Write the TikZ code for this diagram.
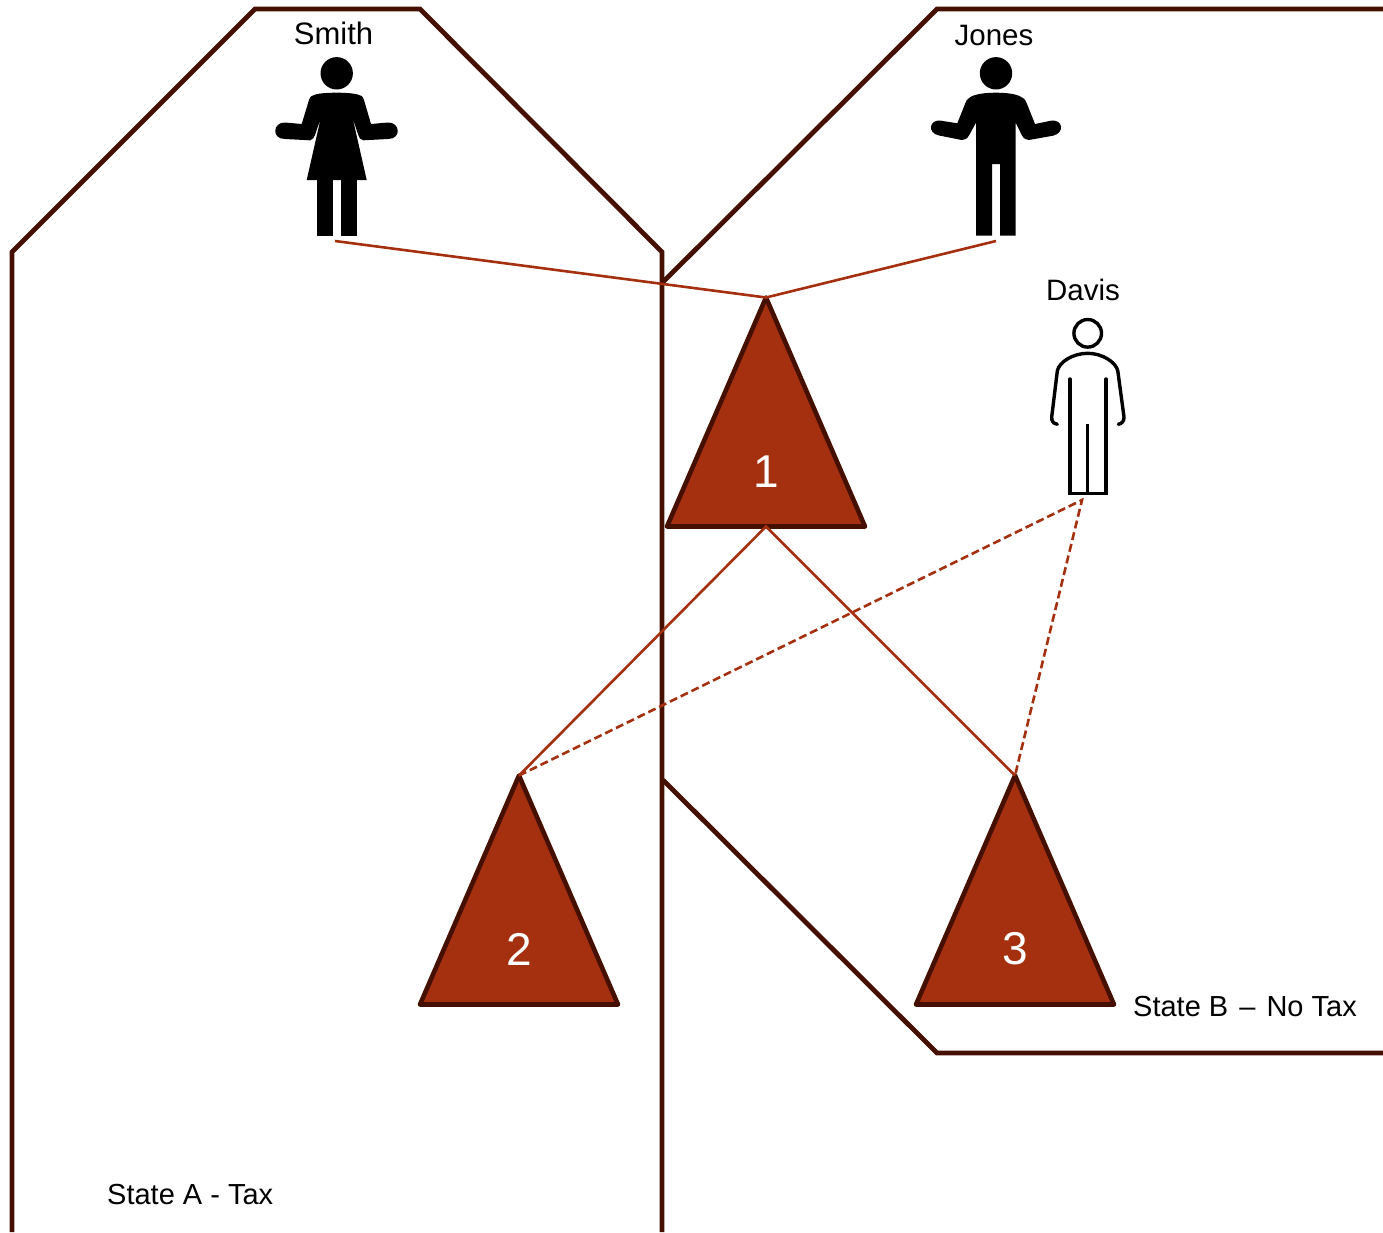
\documentclass[tikz,border=0pt]{standalone}
\usepackage{fontspec}
\setmainfont{Liberation Sans}
\usetikzlibrary{positioning,shapes.geometric}
\definecolor{statebrown}{HTML}{451000}
\definecolor{entityred}{HTML}{A5300F}
\tikzset{
    stateline/.style={draw=statebrown,line width=4.8pt,line join=miter},
    entity/.style={isosceles triangle,shape border rotate=90,isosceles triangle stretches,
        minimum width=198pt,minimum height=229pt,inner sep=0pt,outer sep=0pt,anchor=apex,
        fill=entityred,draw=statebrown,line width=4.6pt,line join=round},
    number/.style={text=white,font=\fontsize{46}{46}\selectfont,inner sep=0pt},
    caption/.style={text=black,font=\fontsize{29.5}{29.5}\selectfont,inner sep=0pt,anchor=base},
    statename/.style={text=black,font=\fontsize{29}{29}\selectfont,inner sep=0pt,anchor=base west},
    link/.style={draw=entityred,line width=2.6pt},
    dashlink/.style={link,dash pattern=on 8pt off 4pt}
}
\begin{document}
\begin{tikzpicture}[x=1pt,y=-1pt]
    \useasboundingbox (0,0) rectangle (1383,1232);

    % state borders
    \draw[stateline] (12,1232) -- (12,252) -- (255,9) -- (420,9) -- (662,252) -- (662,1232);
    \draw[stateline] (1383,9) -- (937,9) -- (663,282);
    \draw[stateline] (663,780) -- (937,1053) -- (1383,1053);

    % entities
    \node[entity] (tri1) at (766,297.5) {};
    \node[entity] (tri2) at (519,775.5) {};
    \node[entity] (tri3) at (1015,775.5) {};
    \node[number,above=39pt of tri1.lower side] (num1) {1};
    \node[number,above=39pt of tri2.lower side] (num2) {2};
    \node[number,above=39pt of tri3.lower side] (num3) {3};

    % Smith
    \fill[black] (336.7,73.3) circle (16.2);
    \fill[black] (336.7,92.7) .. controls (325,92.7) and (316,93.5) .. (311.7,96)
        .. controls (310,97) and (310,98) .. (309,100) -- (301.7,124) -- (285,122.5)
        .. controls (273,122) and (271,139) .. (285,139) -- (310,140.3)
        .. controls (313,140.3) and (314,137) .. (315,135) -- (320.7,118.3) -- (306.7,180)
        -- (366.7,180) -- (352.7,118.3) -- (358.3,135)
        .. controls (359,137) and (360,140.3) .. (363.3,140.3) -- (388,139)
        .. controls (402,139) and (400,122) .. (388,122.5) -- (371,124) -- (364,100)
        .. controls (363,98) and (363,97) .. (361.7,96) .. controls (357,93.5) and (348,92.7) .. cycle;
    \fill[black] (317.3,178) rectangle (332.7,235.7);
    \fill[black] (340.7,178) rectangle (356.7,235.7);

    % Jones
    \fill[black] (996,73.3) circle (16.2);
    \fill[black] (996,92.7) .. controls (985,92.7) and (975,94) .. (970,97.3)
        .. controls (967,99) and (966,101) .. (965,104) -- (957.3,123.3) -- (941,120.7)
        .. controls (929,119) and (927,133) .. (939,135.5) -- (961.7,140)
        .. controls (965,140) and (967,139) .. (969.3,135) -- (976,122.7) -- (976,235.7)
        -- (992,235.7) -- (992,164) -- (1000,164) -- (1000,235.7) -- (1015.7,235.7) -- (1015.7,122.7)
        -- (1021.7,135) .. controls (1024,139) and (1026,140) .. (1029,140) -- (1053,135.7)
        .. controls (1065,133) and (1063,119) .. (1051,120.7) -- (1035,124) -- (1027,104)
        .. controls (1026,101) and (1025,99) .. (1021.7,97.3) .. controls (1017,94) and (1007,92.7) .. cycle;

    % Davis
    \draw[black,line width=3.4pt] (1087.7,333.3) circle (13.8);
    \draw[black,line width=3.4pt,line cap=round] (1057.3,424.3) .. controls (1053,423.5) and (1051.5,421) .. (1051.7,417)
        -- (1057.3,371) .. controls (1059,362) and (1073,353.3) .. (1087.7,353.3)
        .. controls (1102,353.3) and (1116,362) .. (1117.8,371) -- (1124,417)
        .. controls (1124.2,421) and (1122,423.5) .. (1118.3,424.3);
    \draw[black,line width=3.4pt,line cap=round] (1070,379) -- (1070,493.3) -- (1106,493.3) -- (1106,379);
    \draw[black,line width=3.4pt] (1087.7,424) -- (1087.7,493.3);

    \coordinate (smithfoot) at (335,241);
    \coordinate (jonesfoot) at (996,241);
    \coordinate (davisfoot) at (1082,500);

    % links
    \draw[link] (smithfoot) -- (tri1.apex) -- (jonesfoot);
    \draw[link] (tri2.apex) -- (tri1.lower side) -- (tri3.apex);
    \draw[dashlink] (tri2.apex) -- (davisfoot) -- (tri3.apex);

    % names
    \node[caption,font=\fontsize{31}{31}\selectfont] (smith) at (333.5,44) {Smith};
    \node[caption] (jones) at (994,45) {Jones};
    \node[caption] (davis) at (1083,300) {Davis};
    \node[statename] (statea) at (107,1204) {State A - Tax};
    \node[statename] (stateb) at (1133,1016) {State B \kern3pt– \kern3pt No Tax};
\end{tikzpicture}
\end{document}
